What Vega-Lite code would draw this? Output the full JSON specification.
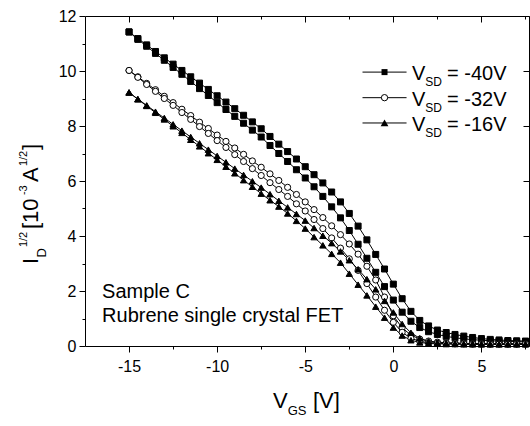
{
"$schema": "https://vega.github.io/schema/vega-lite/v6.json",
"width": 444, "height": 330,
"autosize": {"type": "none"},
"padding": {"left": 85, "top": 16, "right": 1, "bottom": 80},
"config": {"view": {"stroke": null}, "font": "Liberation Sans",
  "axis": {"grid": false, "domainColor": "black", "tickColor": "black", "labelColor": "black", "labelFont": "Liberation Sans", "labelFontSize": 16, "domainWidth": 1, "tickWidth": 1, "title": null},
  "text": {"font": "Liberation Sans", "color": "black"}},
"datasets": {
"iv": [
{"curve":"S1","vsd":"-40V","vgs":-15,"i":11.42},{"curve":"S1","vsd":"-40V","vgs":-14.5,"i":11.18},{"curve":"S1","vsd":"-40V","vgs":-14,"i":10.95},{"curve":"S1","vsd":"-40V","vgs":-13.5,"i":10.71},{"curve":"S1","vsd":"-40V","vgs":-13,"i":10.48},{"curve":"S1","vsd":"-40V","vgs":-12.5,"i":10.25},{"curve":"S1","vsd":"-40V","vgs":-12,"i":10.02},{"curve":"S1","vsd":"-40V","vgs":-11.5,"i":9.79},{"curve":"S1","vsd":"-40V","vgs":-11,"i":9.56},{"curve":"S1","vsd":"-40V","vgs":-10.5,"i":9.33},
{"curve":"S1","vsd":"-40V","vgs":-10,"i":9.10},{"curve":"S1","vsd":"-40V","vgs":-9.5,"i":8.87},{"curve":"S1","vsd":"-40V","vgs":-9,"i":8.63},{"curve":"S1","vsd":"-40V","vgs":-8.5,"i":8.39},{"curve":"S1","vsd":"-40V","vgs":-8,"i":8.15},{"curve":"S1","vsd":"-40V","vgs":-7.5,"i":7.90},{"curve":"S1","vsd":"-40V","vgs":-7,"i":7.62},{"curve":"S1","vsd":"-40V","vgs":-6.5,"i":7.34},{"curve":"S1","vsd":"-40V","vgs":-6,"i":7.07},{"curve":"S1","vsd":"-40V","vgs":-5.5,"i":6.80},
{"curve":"S1","vsd":"-40V","vgs":-5,"i":6.52},{"curve":"S1","vsd":"-40V","vgs":-4.5,"i":6.23},{"curve":"S1","vsd":"-40V","vgs":-4,"i":5.93},{"curve":"S1","vsd":"-40V","vgs":-3.5,"i":5.60},{"curve":"S1","vsd":"-40V","vgs":-3,"i":5.24},{"curve":"S1","vsd":"-40V","vgs":-2.5,"i":4.82},{"curve":"S1","vsd":"-40V","vgs":-2,"i":4.36},{"curve":"S1","vsd":"-40V","vgs":-1.5,"i":3.86},{"curve":"S1","vsd":"-40V","vgs":-1,"i":3.33},{"curve":"S1","vsd":"-40V","vgs":-0.5,"i":2.80},
{"curve":"S1","vsd":"-40V","vgs":0,"i":2.25},{"curve":"S1","vsd":"-40V","vgs":0.5,"i":1.72},{"curve":"S1","vsd":"-40V","vgs":1,"i":1.26},{"curve":"S1","vsd":"-40V","vgs":1.5,"i":0.93},{"curve":"S1","vsd":"-40V","vgs":2,"i":0.73},{"curve":"S1","vsd":"-40V","vgs":2.5,"i":0.58},{"curve":"S1","vsd":"-40V","vgs":3,"i":0.49},{"curve":"S1","vsd":"-40V","vgs":3.5,"i":0.42},{"curve":"S1","vsd":"-40V","vgs":4,"i":0.36},{"curve":"S1","vsd":"-40V","vgs":4.5,"i":0.31},
{"curve":"S1","vsd":"-40V","vgs":5,"i":0.27},{"curve":"S1","vsd":"-40V","vgs":5.5,"i":0.24},{"curve":"S1","vsd":"-40V","vgs":6,"i":0.22},{"curve":"S1","vsd":"-40V","vgs":6.5,"i":0.20},{"curve":"S1","vsd":"-40V","vgs":7,"i":0.19},{"curve":"S1","vsd":"-40V","vgs":7.5,"i":0.18},
{"curve":"S2","vsd":"-40V","vgs":-15,"i":11.42},{"curve":"S2","vsd":"-40V","vgs":-14.5,"i":11.15},{"curve":"S2","vsd":"-40V","vgs":-14,"i":10.90},{"curve":"S2","vsd":"-40V","vgs":-13.5,"i":10.64},{"curve":"S2","vsd":"-40V","vgs":-13,"i":10.39},{"curve":"S2","vsd":"-40V","vgs":-12.5,"i":10.13},{"curve":"S2","vsd":"-40V","vgs":-12,"i":9.88},{"curve":"S2","vsd":"-40V","vgs":-11.5,"i":9.62},{"curve":"S2","vsd":"-40V","vgs":-11,"i":9.36},{"curve":"S2","vsd":"-40V","vgs":-10.5,"i":9.11},
{"curve":"S2","vsd":"-40V","vgs":-10,"i":8.85},{"curve":"S2","vsd":"-40V","vgs":-9.5,"i":8.60},{"curve":"S2","vsd":"-40V","vgs":-9,"i":8.35},{"curve":"S2","vsd":"-40V","vgs":-8.5,"i":8.10},{"curve":"S2","vsd":"-40V","vgs":-8,"i":7.85},{"curve":"S2","vsd":"-40V","vgs":-7.5,"i":7.60},{"curve":"S2","vsd":"-40V","vgs":-7,"i":7.29},{"curve":"S2","vsd":"-40V","vgs":-6.5,"i":7.00},{"curve":"S2","vsd":"-40V","vgs":-6,"i":6.71},{"curve":"S2","vsd":"-40V","vgs":-5.5,"i":6.41},
{"curve":"S2","vsd":"-40V","vgs":-5,"i":6.11},{"curve":"S2","vsd":"-40V","vgs":-4.5,"i":5.79},{"curve":"S2","vsd":"-40V","vgs":-4,"i":5.44},{"curve":"S2","vsd":"-40V","vgs":-3.5,"i":5.06},{"curve":"S2","vsd":"-40V","vgs":-3,"i":4.66},{"curve":"S2","vsd":"-40V","vgs":-2.5,"i":4.20},{"curve":"S2","vsd":"-40V","vgs":-2,"i":3.70},{"curve":"S2","vsd":"-40V","vgs":-1.5,"i":3.19},{"curve":"S2","vsd":"-40V","vgs":-1,"i":2.68},{"curve":"S2","vsd":"-40V","vgs":-0.5,"i":2.16},
{"curve":"S2","vsd":"-40V","vgs":0,"i":1.67},{"curve":"S2","vsd":"-40V","vgs":0.5,"i":1.23},{"curve":"S2","vsd":"-40V","vgs":1,"i":0.90},{"curve":"S2","vsd":"-40V","vgs":1.5,"i":0.67},{"curve":"S2","vsd":"-40V","vgs":2,"i":0.52},{"curve":"S2","vsd":"-40V","vgs":2.5,"i":0.42},{"curve":"S2","vsd":"-40V","vgs":3,"i":0.35},{"curve":"S2","vsd":"-40V","vgs":3.5,"i":0.30},{"curve":"S2","vsd":"-40V","vgs":4,"i":0.26},{"curve":"S2","vsd":"-40V","vgs":4.5,"i":0.23},
{"curve":"S2","vsd":"-40V","vgs":5,"i":0.21},{"curve":"S2","vsd":"-40V","vgs":5.5,"i":0.19},{"curve":"S2","vsd":"-40V","vgs":6,"i":0.18},{"curve":"S2","vsd":"-40V","vgs":6.5,"i":0.17},{"curve":"S2","vsd":"-40V","vgs":7,"i":0.16},{"curve":"S2","vsd":"-40V","vgs":7.5,"i":0.15},
{"curve":"C1","vsd":"-32V","vgs":-15,"i":10.02},{"curve":"C1","vsd":"-32V","vgs":-14.5,"i":9.79},{"curve":"C1","vsd":"-32V","vgs":-14,"i":9.55},{"curve":"C1","vsd":"-32V","vgs":-13.5,"i":9.32},{"curve":"C1","vsd":"-32V","vgs":-13,"i":9.08},{"curve":"C1","vsd":"-32V","vgs":-12.5,"i":8.85},{"curve":"C1","vsd":"-32V","vgs":-12,"i":8.61},{"curve":"C1","vsd":"-32V","vgs":-11.5,"i":8.38},{"curve":"C1","vsd":"-32V","vgs":-11,"i":8.14},{"curve":"C1","vsd":"-32V","vgs":-10.5,"i":7.91},
{"curve":"C1","vsd":"-32V","vgs":-10,"i":7.67},{"curve":"C1","vsd":"-32V","vgs":-9.5,"i":7.44},{"curve":"C1","vsd":"-32V","vgs":-9,"i":7.20},{"curve":"C1","vsd":"-32V","vgs":-8.5,"i":6.97},{"curve":"C1","vsd":"-32V","vgs":-8,"i":6.73},{"curve":"C1","vsd":"-32V","vgs":-7.5,"i":6.50},{"curve":"C1","vsd":"-32V","vgs":-7,"i":6.26},{"curve":"C1","vsd":"-32V","vgs":-6.5,"i":6.02},{"curve":"C1","vsd":"-32V","vgs":-6,"i":5.77},{"curve":"C1","vsd":"-32V","vgs":-5.5,"i":5.51},
{"curve":"C1","vsd":"-32V","vgs":-5,"i":5.24},{"curve":"C1","vsd":"-32V","vgs":-4.5,"i":4.96},{"curve":"C1","vsd":"-32V","vgs":-4,"i":4.67},{"curve":"C1","vsd":"-32V","vgs":-3.5,"i":4.37},{"curve":"C1","vsd":"-32V","vgs":-3,"i":4.05},{"curve":"C1","vsd":"-32V","vgs":-2.5,"i":3.71},{"curve":"C1","vsd":"-32V","vgs":-2,"i":3.34},{"curve":"C1","vsd":"-32V","vgs":-1.5,"i":2.90},{"curve":"C1","vsd":"-32V","vgs":-1,"i":2.40},{"curve":"C1","vsd":"-32V","vgs":-0.5,"i":1.78},
{"curve":"C1","vsd":"-32V","vgs":0,"i":1.10},{"curve":"C1","vsd":"-32V","vgs":0.5,"i":0.66},{"curve":"C1","vsd":"-32V","vgs":1,"i":0.40},{"curve":"C1","vsd":"-32V","vgs":1.5,"i":0.25},{"curve":"C1","vsd":"-32V","vgs":2,"i":0.18},{"curve":"C1","vsd":"-32V","vgs":2.5,"i":0.14},{"curve":"C1","vsd":"-32V","vgs":3,"i":0.12},{"curve":"C1","vsd":"-32V","vgs":3.5,"i":0.11},{"curve":"C1","vsd":"-32V","vgs":4,"i":0.10},{"curve":"C1","vsd":"-32V","vgs":4.5,"i":0.09},
{"curve":"C1","vsd":"-32V","vgs":5,"i":0.09},{"curve":"C1","vsd":"-32V","vgs":5.5,"i":0.08},{"curve":"C1","vsd":"-32V","vgs":6,"i":0.08},{"curve":"C1","vsd":"-32V","vgs":6.5,"i":0.08},{"curve":"C1","vsd":"-32V","vgs":7,"i":0.08},{"curve":"C1","vsd":"-32V","vgs":7.5,"i":0.08},
{"curve":"C2","vsd":"-32V","vgs":-15,"i":10.02},{"curve":"C2","vsd":"-32V","vgs":-14.5,"i":9.77},{"curve":"C2","vsd":"-32V","vgs":-14,"i":9.51},{"curve":"C2","vsd":"-32V","vgs":-13.5,"i":9.26},{"curve":"C2","vsd":"-32V","vgs":-13,"i":9.00},{"curve":"C2","vsd":"-32V","vgs":-12.5,"i":8.75},{"curve":"C2","vsd":"-32V","vgs":-12,"i":8.49},{"curve":"C2","vsd":"-32V","vgs":-11.5,"i":8.24},{"curve":"C2","vsd":"-32V","vgs":-11,"i":7.98},{"curve":"C2","vsd":"-32V","vgs":-10.5,"i":7.73},
{"curve":"C2","vsd":"-32V","vgs":-10,"i":7.47},{"curve":"C2","vsd":"-32V","vgs":-9.5,"i":7.22},{"curve":"C2","vsd":"-32V","vgs":-9,"i":6.96},{"curve":"C2","vsd":"-32V","vgs":-8.5,"i":6.71},{"curve":"C2","vsd":"-32V","vgs":-8,"i":6.45},{"curve":"C2","vsd":"-32V","vgs":-7.5,"i":6.20},{"curve":"C2","vsd":"-32V","vgs":-7,"i":5.94},{"curve":"C2","vsd":"-32V","vgs":-6.5,"i":5.69},{"curve":"C2","vsd":"-32V","vgs":-6,"i":5.44},{"curve":"C2","vsd":"-32V","vgs":-5.5,"i":5.17},
{"curve":"C2","vsd":"-32V","vgs":-5,"i":4.91},{"curve":"C2","vsd":"-32V","vgs":-4.5,"i":4.60},{"curve":"C2","vsd":"-32V","vgs":-4,"i":4.27},{"curve":"C2","vsd":"-32V","vgs":-3.5,"i":3.93},{"curve":"C2","vsd":"-32V","vgs":-3,"i":3.56},{"curve":"C2","vsd":"-32V","vgs":-2.5,"i":3.17},{"curve":"C2","vsd":"-32V","vgs":-2,"i":2.75},{"curve":"C2","vsd":"-32V","vgs":-1.5,"i":2.27},{"curve":"C2","vsd":"-32V","vgs":-1,"i":1.78},{"curve":"C2","vsd":"-32V","vgs":-0.5,"i":1.30},
{"curve":"C2","vsd":"-32V","vgs":0,"i":0.86},{"curve":"C2","vsd":"-32V","vgs":0.5,"i":0.50},{"curve":"C2","vsd":"-32V","vgs":1,"i":0.28},{"curve":"C2","vsd":"-32V","vgs":1.5,"i":0.17},{"curve":"C2","vsd":"-32V","vgs":2,"i":0.12},{"curve":"C2","vsd":"-32V","vgs":2.5,"i":0.10},{"curve":"C2","vsd":"-32V","vgs":3,"i":0.09},{"curve":"C2","vsd":"-32V","vgs":3.5,"i":0.08},{"curve":"C2","vsd":"-32V","vgs":4,"i":0.08},{"curve":"C2","vsd":"-32V","vgs":4.5,"i":0.07},
{"curve":"C2","vsd":"-32V","vgs":5,"i":0.07},{"curve":"C2","vsd":"-32V","vgs":5.5,"i":0.07},{"curve":"C2","vsd":"-32V","vgs":6,"i":0.07},{"curve":"C2","vsd":"-32V","vgs":6.5,"i":0.07},{"curve":"C2","vsd":"-32V","vgs":7,"i":0.07},{"curve":"C2","vsd":"-32V","vgs":7.5,"i":0.07},
{"curve":"T1","vsd":"-16V","vgs":-15,"i":9.22},{"curve":"T1","vsd":"-16V","vgs":-14.5,"i":8.98},{"curve":"T1","vsd":"-16V","vgs":-14,"i":8.75},{"curve":"T1","vsd":"-16V","vgs":-13.5,"i":8.52},{"curve":"T1","vsd":"-16V","vgs":-13,"i":8.29},{"curve":"T1","vsd":"-16V","vgs":-12.5,"i":8.06},{"curve":"T1","vsd":"-16V","vgs":-12,"i":7.83},{"curve":"T1","vsd":"-16V","vgs":-11.5,"i":7.60},{"curve":"T1","vsd":"-16V","vgs":-11,"i":7.37},{"curve":"T1","vsd":"-16V","vgs":-10.5,"i":7.14},
{"curve":"T1","vsd":"-16V","vgs":-10,"i":6.91},{"curve":"T1","vsd":"-16V","vgs":-9.5,"i":6.68},{"curve":"T1","vsd":"-16V","vgs":-9,"i":6.45},{"curve":"T1","vsd":"-16V","vgs":-8.5,"i":6.22},{"curve":"T1","vsd":"-16V","vgs":-8,"i":5.99},{"curve":"T1","vsd":"-16V","vgs":-7.5,"i":5.76},{"curve":"T1","vsd":"-16V","vgs":-7,"i":5.52},{"curve":"T1","vsd":"-16V","vgs":-6.5,"i":5.28},{"curve":"T1","vsd":"-16V","vgs":-6,"i":5.04},{"curve":"T1","vsd":"-16V","vgs":-5.5,"i":4.80},
{"curve":"T1","vsd":"-16V","vgs":-5,"i":4.56},{"curve":"T1","vsd":"-16V","vgs":-4.5,"i":4.29},{"curve":"T1","vsd":"-16V","vgs":-4,"i":4.01},{"curve":"T1","vsd":"-16V","vgs":-3.5,"i":3.74},{"curve":"T1","vsd":"-16V","vgs":-3,"i":3.44},{"curve":"T1","vsd":"-16V","vgs":-2.5,"i":3.12},{"curve":"T1","vsd":"-16V","vgs":-2,"i":2.79},{"curve":"T1","vsd":"-16V","vgs":-1.5,"i":2.43},{"curve":"T1","vsd":"-16V","vgs":-1,"i":2.06},{"curve":"T1","vsd":"-16V","vgs":-0.5,"i":1.64},
{"curve":"T1","vsd":"-16V","vgs":0,"i":1.22},{"curve":"T1","vsd":"-16V","vgs":0.5,"i":0.80},{"curve":"T1","vsd":"-16V","vgs":1,"i":0.48},{"curve":"T1","vsd":"-16V","vgs":1.5,"i":0.28},{"curve":"T1","vsd":"-16V","vgs":2,"i":0.17},{"curve":"T1","vsd":"-16V","vgs":2.5,"i":0.12},{"curve":"T1","vsd":"-16V","vgs":3,"i":0.10},{"curve":"T1","vsd":"-16V","vgs":3.5,"i":0.09},{"curve":"T1","vsd":"-16V","vgs":4,"i":0.08},{"curve":"T1","vsd":"-16V","vgs":4.5,"i":0.08},
{"curve":"T1","vsd":"-16V","vgs":5,"i":0.07},{"curve":"T1","vsd":"-16V","vgs":5.5,"i":0.07},{"curve":"T1","vsd":"-16V","vgs":6,"i":0.07},{"curve":"T1","vsd":"-16V","vgs":6.5,"i":0.07},{"curve":"T1","vsd":"-16V","vgs":7,"i":0.07},{"curve":"T1","vsd":"-16V","vgs":7.5,"i":0.07},
{"curve":"T2","vsd":"-16V","vgs":-15,"i":9.22},{"curve":"T2","vsd":"-16V","vgs":-14.5,"i":8.97},{"curve":"T2","vsd":"-16V","vgs":-14,"i":8.73},{"curve":"T2","vsd":"-16V","vgs":-13.5,"i":8.48},{"curve":"T2","vsd":"-16V","vgs":-13,"i":8.24},{"curve":"T2","vsd":"-16V","vgs":-12.5,"i":7.99},{"curve":"T2","vsd":"-16V","vgs":-12,"i":7.75},{"curve":"T2","vsd":"-16V","vgs":-11.5,"i":7.50},{"curve":"T2","vsd":"-16V","vgs":-11,"i":7.26},{"curve":"T2","vsd":"-16V","vgs":-10.5,"i":7.01},
{"curve":"T2","vsd":"-16V","vgs":-10,"i":6.77},{"curve":"T2","vsd":"-16V","vgs":-9.5,"i":6.52},{"curve":"T2","vsd":"-16V","vgs":-9,"i":6.28},{"curve":"T2","vsd":"-16V","vgs":-8.5,"i":6.03},{"curve":"T2","vsd":"-16V","vgs":-8,"i":5.79},{"curve":"T2","vsd":"-16V","vgs":-7.5,"i":5.54},{"curve":"T2","vsd":"-16V","vgs":-7,"i":5.30},{"curve":"T2","vsd":"-16V","vgs":-6.5,"i":5.07},{"curve":"T2","vsd":"-16V","vgs":-6,"i":4.82},{"curve":"T2","vsd":"-16V","vgs":-5.5,"i":4.55},
{"curve":"T2","vsd":"-16V","vgs":-5,"i":4.27},{"curve":"T2","vsd":"-16V","vgs":-4.5,"i":3.96},{"curve":"T2","vsd":"-16V","vgs":-4,"i":3.66},{"curve":"T2","vsd":"-16V","vgs":-3.5,"i":3.35},{"curve":"T2","vsd":"-16V","vgs":-3,"i":3.03},{"curve":"T2","vsd":"-16V","vgs":-2.5,"i":2.63},{"curve":"T2","vsd":"-16V","vgs":-2,"i":2.23},{"curve":"T2","vsd":"-16V","vgs":-1.5,"i":1.84},{"curve":"T2","vsd":"-16V","vgs":-1,"i":1.43},{"curve":"T2","vsd":"-16V","vgs":-0.5,"i":1.03},
{"curve":"T2","vsd":"-16V","vgs":0,"i":0.67},{"curve":"T2","vsd":"-16V","vgs":0.5,"i":0.38},{"curve":"T2","vsd":"-16V","vgs":1,"i":0.21},{"curve":"T2","vsd":"-16V","vgs":1.5,"i":0.13},{"curve":"T2","vsd":"-16V","vgs":2,"i":0.09},{"curve":"T2","vsd":"-16V","vgs":2.5,"i":0.08},{"curve":"T2","vsd":"-16V","vgs":3,"i":0.07},{"curve":"T2","vsd":"-16V","vgs":3.5,"i":0.07},{"curve":"T2","vsd":"-16V","vgs":4,"i":0.06},{"curve":"T2","vsd":"-16V","vgs":4.5,"i":0.06},
{"curve":"T2","vsd":"-16V","vgs":5,"i":0.06},{"curve":"T2","vsd":"-16V","vgs":5.5,"i":0.06},{"curve":"T2","vsd":"-16V","vgs":6,"i":0.06},{"curve":"T2","vsd":"-16V","vgs":6.5,"i":0.06},{"curve":"T2","vsd":"-16V","vgs":7,"i":0.06},{"curve":"T2","vsd":"-16V","vgs":7.5,"i":0.06}
]
},
"resolve": {"axis": {"x": "independent", "y": "independent"}},
"layer": [
{"data": {"name": "iv"},
 "mark": {"type": "line", "color": "black", "strokeWidth": 1},
 "encoding": {
  "x": {"field": "vgs", "type": "quantitative", "scale": {"domain": [-17.5, 7.7], "nice": false, "zero": false},
        "axis": {"orient": "bottom", "values": [-15, -10, -5, 0, 5], "tickSize": 6, "labelPadding": 6, "labelOverlap": false, "labelFlush": false, "labelExpr": "'' + datum.value"}},
  "y": {"field": "i", "type": "quantitative", "scale": {"domain": [0, 12], "nice": false, "zero": false},
        "axis": {"orient": "left", "values": [0, 2, 4, 6, 8, 10, 12], "tickSize": 6, "labelPadding": 3, "labelOverlap": false, "labelFlush": false, "labelExpr": "'' + datum.value"}},
  "detail": {"field": "curve"},
  "order": {"field": "vgs"}}},
{"data": {"name": "iv"},
 "mark": {"type": "point", "filled": false, "stroke": "black", "strokeWidth": 1, "opacity": 1},
 "encoding": {
  "x": {"field": "vgs", "type": "quantitative", "axis": null},
  "y": {"field": "i", "type": "quantitative", "axis": null},
  "shape": {"field": "vsd", "type": "nominal", "scale": {"domain": ["-40V", "-32V", "-16V"], "range": ["square", "circle", "triangle-up"]}, "legend": null},
  "fill": {"field": "vsd", "type": "nominal", "scale": {"domain": ["-40V", "-32V", "-16V"], "range": ["black", "white", "black"]}, "legend": null},
  "size": {"field": "vsd", "type": "nominal", "scale": {"domain": ["-40V", "-32V", "-16V"], "range": [36, 40, 60]}, "legend": null}}},
{"data": {"values": [{}]}, "mark": {"type": "point", "opacity": 0},
 "encoding": {"x": {"datum": 0, "type": "quantitative", "axis": {"orient": "bottom", "values": [-12.5, -7.5, -2.5, 2.5, 7.5], "tickSize": 3, "labels": false, "domain": false}},
  "y": {"datum": 0, "type": "quantitative", "axis": {"orient": "left", "values": [1, 3, 5, 7, 9, 11], "tickSize": 3, "labels": false, "domain": false}}}},
{"data": {"values": [{}]}, "mark": {"type": "point", "opacity": 0},
 "encoding": {"x": {"datum": 0, "type": "quantitative", "axis": {"orient": "top", "values": [-15, -10, -5, 0, 5], "tickSize": -6, "labels": false, "domain": true}},
  "y": {"datum": 0, "type": "quantitative", "axis": {"orient": "right", "values": [0, 2, 4, 6, 8, 10, 12], "tickSize": -6, "labels": false, "domain": true}}}},
{"data": {"values": [{}]}, "mark": {"type": "point", "opacity": 0},
 "encoding": {"x": {"datum": 0, "type": "quantitative", "axis": {"orient": "top", "values": [-12.5, -7.5, -2.5, 2.5, 7.5], "tickSize": -3, "labels": false, "domain": false}},
  "y": {"datum": 0, "type": "quantitative", "axis": null}}},
{"data": {"values": [{}]},
 "encoding": {"y": {"datum": 9.96, "type": "quantitative", "axis": null}},
 "layer": [
  {"mark": {"type": "rule", "color": "black", "strokeWidth": 1}, "encoding": {"x": {"datum": -1.75, "type": "quantitative", "axis": null}, "x2": {"datum": 0.75}}},
  {"mark": {"type": "point", "shape": "square", "filled": true, "color": "black", "size": 36, "opacity": 1}, "encoding": {"x": {"datum": -0.5, "type": "quantitative", "axis": null}}},
  {"mark": {"type": "text", "text": "V", "fontSize": 20, "align": "left", "baseline": "alphabetic", "dy": 8}, "encoding": {"x": {"datum": 1.06, "type": "quantitative", "axis": null}}},
  {"mark": {"type": "text", "text": "SD", "fontSize": 12, "align": "left", "baseline": "alphabetic", "dx": 13.3, "dy": 14}, "encoding": {"x": {"datum": 1.06, "type": "quantitative", "axis": null}}},
  {"mark": {"type": "text", "text": "= -40V", "fontSize": 20, "align": "left", "baseline": "alphabetic", "dx": 35, "dy": 8}, "encoding": {"x": {"datum": 1.06, "type": "quantitative", "axis": null}}}
 ]},
{"data": {"values": [{}]},
 "encoding": {"y": {"datum": 9.03, "type": "quantitative", "axis": null}},
 "layer": [
  {"mark": {"type": "rule", "color": "black", "strokeWidth": 1}, "encoding": {"x": {"datum": -1.75, "type": "quantitative", "axis": null}, "x2": {"datum": 0.75}}},
  {"mark": {"type": "point", "shape": "circle", "filled": true, "fill": "white", "stroke": "black", "strokeWidth": 1, "size": 40, "opacity": 1}, "encoding": {"x": {"datum": -0.5, "type": "quantitative", "axis": null}}},
  {"mark": {"type": "text", "text": "V", "fontSize": 20, "align": "left", "baseline": "alphabetic", "dy": 8}, "encoding": {"x": {"datum": 1.06, "type": "quantitative", "axis": null}}},
  {"mark": {"type": "text", "text": "SD", "fontSize": 12, "align": "left", "baseline": "alphabetic", "dx": 13.3, "dy": 14}, "encoding": {"x": {"datum": 1.06, "type": "quantitative", "axis": null}}},
  {"mark": {"type": "text", "text": "= -32V", "fontSize": 20, "align": "left", "baseline": "alphabetic", "dx": 35, "dy": 8}, "encoding": {"x": {"datum": 1.06, "type": "quantitative", "axis": null}}}
 ]},
{"data": {"values": [{}]},
 "encoding": {"y": {"datum": 8.11, "type": "quantitative", "axis": null}},
 "layer": [
  {"mark": {"type": "rule", "color": "black", "strokeWidth": 1}, "encoding": {"x": {"datum": -1.75, "type": "quantitative", "axis": null}, "x2": {"datum": 0.75}}},
  {"mark": {"type": "point", "shape": "triangle-up", "filled": true, "color": "black", "size": 60, "opacity": 1}, "encoding": {"x": {"datum": -0.5, "type": "quantitative", "axis": null}}},
  {"mark": {"type": "text", "text": "V", "fontSize": 20, "align": "left", "baseline": "alphabetic", "dy": 8}, "encoding": {"x": {"datum": 1.06, "type": "quantitative", "axis": null}}},
  {"mark": {"type": "text", "text": "SD", "fontSize": 12, "align": "left", "baseline": "alphabetic", "dx": 13.3, "dy": 14}, "encoding": {"x": {"datum": 1.06, "type": "quantitative", "axis": null}}},
  {"mark": {"type": "text", "text": "= -16V", "fontSize": 20, "align": "left", "baseline": "alphabetic", "dx": 35, "dy": 8}, "encoding": {"x": {"datum": 1.06, "type": "quantitative", "axis": null}}}
 ]},
{"data": {"values": [{}]},
 "mark": {"type": "text", "text": ["Sample C", "Rubrene single crystal FET"], "fontSize": 20, "lineHeight": 24, "align": "left", "baseline": "alphabetic"},
 "encoding": {"x": {"datum": -16.53, "type": "quantitative", "axis": null}, "y": {"datum": 1.745, "type": "quantitative", "axis": null}}},
{"data": {"values": [{}]},
 "encoding": {"x": {"datum": -6.83, "type": "quantitative", "axis": null}, "y": {"datum": -2.255, "type": "quantitative", "axis": null}},
 "layer": [
  {"mark": {"type": "text", "text": "V", "fontSize": 22, "align": "left", "baseline": "alphabetic"}},
  {"mark": {"type": "text", "text": "GS", "fontSize": 13, "align": "left", "baseline": "alphabetic", "dx": 14.7, "dy": 7}},
  {"mark": {"type": "text", "text": "[V]", "fontSize": 22, "align": "left", "baseline": "alphabetic", "dx": 40}}
 ]},
{"data": {"values": [{}]},
 "encoding": {"x": {"datum": -20.16, "type": "quantitative", "axis": null}, "y": {"datum": 2.98, "type": "quantitative", "axis": null}},
 "layer": [
  {"mark": {"type": "text", "text": "I", "fontSize": 22, "align": "left", "baseline": "alphabetic", "angle": 270}},
  {"mark": {"type": "text", "text": "D", "fontSize": 13, "align": "left", "baseline": "alphabetic", "angle": 270, "dx": 6.5, "dy": 8}},
  {"mark": {"type": "text", "text": "1/2", "fontSize": 11, "align": "left", "baseline": "alphabetic", "angle": 270, "dx": 17, "dy": -11}},
  {"mark": {"type": "text", "text": "[10", "fontSize": 22, "align": "left", "baseline": "alphabetic", "angle": 270, "dx": 35}},
  {"mark": {"type": "text", "text": "-3", "fontSize": 11, "align": "left", "baseline": "alphabetic", "angle": 270, "dx": 69, "dy": -11}},
  {"mark": {"type": "text", "text": "A", "fontSize": 22, "align": "left", "baseline": "alphabetic", "angle": 270, "dx": 82}},
  {"mark": {"type": "text", "text": "1/2", "fontSize": 11, "align": "left", "baseline": "alphabetic", "angle": 270, "dx": 98, "dy": -11}},
  {"mark": {"type": "text", "text": "]", "fontSize": 22, "align": "left", "baseline": "alphabetic", "angle": 270, "dx": 114}}
 ]}
]
}
